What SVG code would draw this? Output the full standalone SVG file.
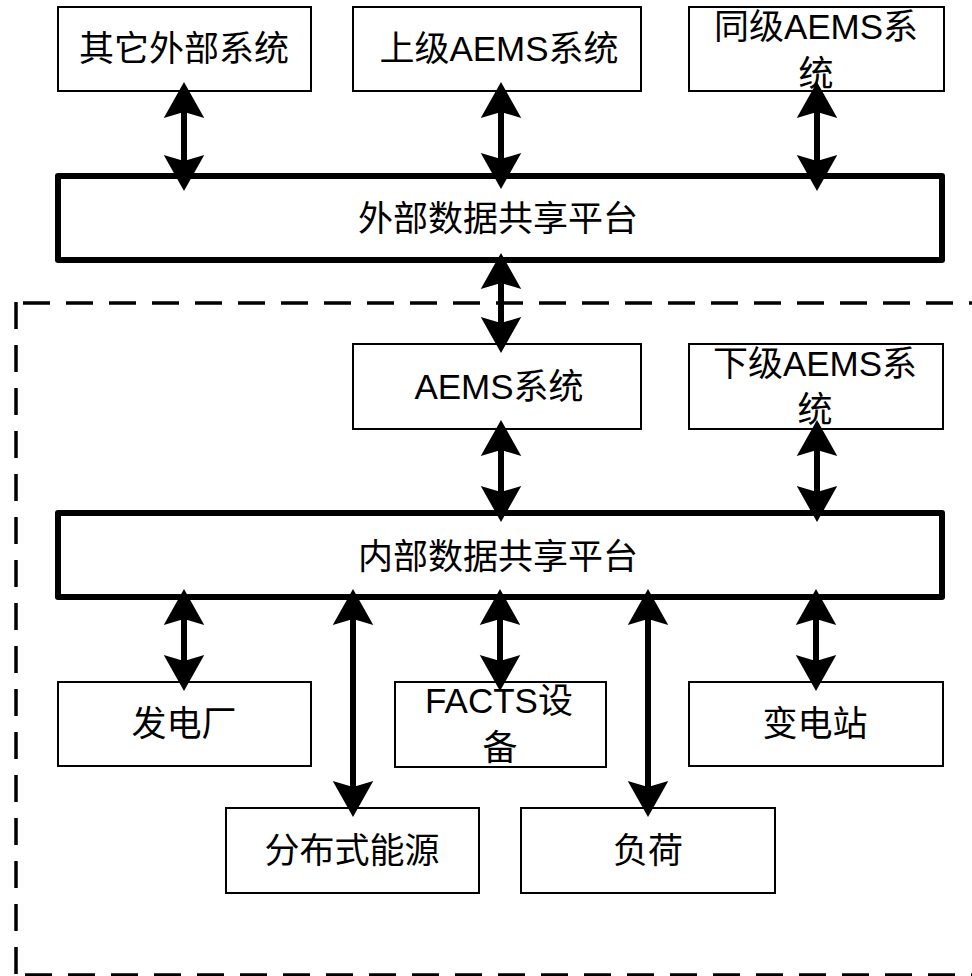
<svg xmlns="http://www.w3.org/2000/svg" width="972" height="976" viewBox="0 0 972 976">
<style>
.box{fill:#fff;stroke:#000;stroke-width:2}
.plat{fill:#fff;stroke:#000;stroke-width:6;stroke-linejoin:round}
.t{font-family:"Liberation Sans","Noto Sans CJK SC",sans-serif;font-size:35px;fill:#000;text-anchor:middle}
.dash{fill:none;stroke:#000;stroke-width:3.5;stroke-dasharray:27 16}
.arr{fill:none;stroke:#000;stroke-width:6;marker-start:url(#ah);marker-end:url(#ah)}
</style>
<defs>
<marker id="ah" markerUnits="userSpaceOnUse" orient="auto-start-reverse" refX="0" refY="0" markerWidth="60" markerHeight="60" viewBox="-10 -20 40 40" overflow="visible">
<path d="M20,0 L-4,-13.5 L0,0 L-4,13.5 Z" fill="#000"/>
</marker>
</defs>
<rect width="972" height="976" fill="#fff"/>
<g id="boundary">
<path class="dash" d="M23,303 H972"/>
<path class="dash" d="M16,302 V975"/>
<path class="dash" d="M25,975 H972"/>
</g>
<g id="n-other"><rect class="box" x="58" y="7" width="253" height="84"/><text class="t" x="184" y="61">其它外部系统</text></g>
<g id="n-upper"><rect class="box" x="353" y="7" width="288" height="84"/><text class="t" x="499" y="61">上级AEMS系统</text></g>
<g id="n-peer"><rect class="box" x="689" y="7" width="255" height="84"/><text class="t" x="816" y="39">同级AEMS系</text><text class="t" x="816" y="86">统</text></g>
<g id="n-ext"><rect class="plat" x="58" y="176" width="884" height="84"/><text class="t" x="498" y="231">外部数据共享平台</text></g>
<g id="n-aems"><rect class="box" x="353" y="344" width="288" height="85"/><text class="t" x="499" y="399">AEMS系统</text></g>
<g id="n-lower"><rect class="box" x="689" y="344" width="254" height="85"/><text class="t" x="815" y="376">下级AEMS系</text><text class="t" x="815" y="422">统</text></g>
<g id="n-int"><rect class="plat" x="58" y="513" width="884" height="84"/><text class="t" x="498" y="569">内部数据共享平台</text></g>
<g id="n-plant"><rect class="box" x="58" y="682" width="253" height="84"/><text class="t" x="184" y="736">发电厂</text></g>
<g id="n-facts"><rect class="box" x="395" y="682" width="211" height="85"/><text class="t" x="499" y="713">FACTS设</text><text class="t" x="500" y="760">备</text></g>
<g id="n-sub"><rect class="box" x="689" y="682" width="254" height="84"/><text class="t" x="815" y="736">变电站</text></g>
<g id="n-der"><rect class="box" x="226" y="808" width="253" height="85"/><text class="t" x="352" y="863">分布式能源</text></g>
<g id="n-load"><rect class="box" x="521" y="808" width="254" height="85"/><text class="t" x="648" y="863">负荷</text></g>
<g id="connectors">
<path class="arr" d="M184,112 V161"/>
<path class="arr" d="M501,112 V159"/>
<path class="arr" d="M817,112 V161"/>
<path class="arr" d="M501,283 V323"/>
<path class="arr" d="M501,450 V492"/>
<path class="arr" d="M817,450 V492"/>
<path class="arr" d="M184,619 V661"/>
<path class="arr" d="M353,619 V787"/>
<path class="arr" d="M500,619 V661"/>
<path class="arr" d="M648,619 V787"/>
<path class="arr" d="M816,619 V661"/>
</g>
</svg>
